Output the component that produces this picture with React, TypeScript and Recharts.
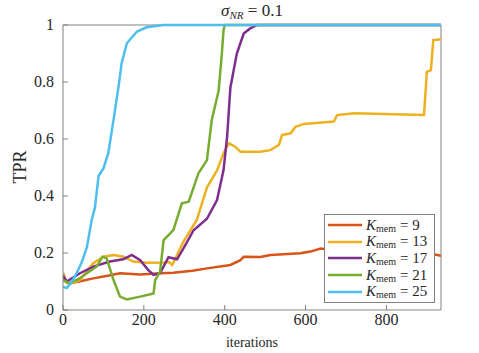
import { LineChart, Line, XAxis, YAxis, Legend, ReferenceLine } from 'recharts';

const xTicks = [0, 200, 400, 600, 800];
const yTicks = [0, 0.2, 0.4, 0.6, 0.8, 1];

const k9Iter = [0, 8, 17, 40, 75, 110, 141, 191, 240, 273, 320, 356, 414, 439, 447, 488, 513, 587, 612, 637, 700, 800, 880, 920, 935];
const k9Tpr = [0.129, 0.1, 0.094, 0.1, 0.111, 0.12, 0.129, 0.125, 0.129, 0.131, 0.138, 0.146, 0.158, 0.175, 0.187, 0.186, 0.193, 0.199, 0.205, 0.216, 0.205, 0.21, 0.2, 0.195, 0.19];

const k13Iter = [0, 5, 15, 42, 75, 100, 125, 150, 174, 207, 249, 262, 270, 298, 331, 356, 381, 397, 410, 426, 439, 488, 513, 534, 542, 563, 575, 596, 670, 678, 720, 819, 893, 900, 910, 916, 935];
const k13Tpr = [0.13, 0.1, 0.09, 0.105, 0.164, 0.187, 0.193, 0.187, 0.17, 0.166, 0.167, 0.168, 0.158, 0.24, 0.316, 0.43, 0.49, 0.55, 0.585, 0.573, 0.555, 0.555, 0.561, 0.579, 0.614, 0.62, 0.643, 0.653, 0.661, 0.684, 0.69, 0.687, 0.684, 0.836, 0.842, 0.947, 0.95];

const k17Iter = [0, 9, 42, 75, 116, 149, 170, 191, 211, 224, 240, 261, 282, 298, 323, 356, 381, 397, 406, 414, 430, 447, 463, 480, 935];
const k17Tpr = [0.12, 0.1, 0.129, 0.152, 0.17, 0.178, 0.193, 0.175, 0.14, 0.123, 0.129, 0.185, 0.178, 0.216, 0.28, 0.32, 0.386, 0.49, 0.608, 0.78, 0.9, 0.97, 0.988, 1, 1];

const k21Iter = [0, 17, 40, 59, 83, 98, 108, 125, 141, 158, 191, 216, 224, 228, 240, 249, 273, 294, 311, 335, 356, 368, 385, 393, 397, 400, 935];
const k21Tpr = [0.105, 0.094, 0.11, 0.129, 0.152, 0.187, 0.181, 0.105, 0.047, 0.037, 0.047, 0.055, 0.058, 0.105, 0.134, 0.245, 0.28, 0.374, 0.38, 0.48, 0.526, 0.667, 0.77, 0.9, 0.98, 1, 1];

const k25Iter = [0, 9, 20, 34, 47, 59, 71, 79, 88, 100, 112, 125, 137, 145, 158, 183, 207, 248, 935];
const k25Tpr = [0.082, 0.077, 0.095, 0.13, 0.17, 0.22, 0.316, 0.36, 0.47, 0.497, 0.55, 0.667, 0.78, 0.866, 0.936, 0.977, 0.992, 1, 1];

const toPoints = (xs: number[], ys: number[]) => xs.map((x, i) => ({ x, y: ys[i] }));

const series = [
  { k: '9', color: '#D95319', data: toPoints(k9Iter, k9Tpr) },
  { k: '13', color: '#EDB120', data: toPoints(k13Iter, k13Tpr) },
  { k: '17', color: '#7E2F8E', data: toPoints(k17Iter, k17Tpr) },
  { k: '21', color: '#77AC30', data: toPoints(k21Iter, k21Tpr) },
  { k: '25', color: '#4DBEEE', data: toPoints(k25Iter, k25Tpr) },
];

const font = "'Liberation Serif', 'Times New Roman', serif";
const axisGray = '#808080';
const textColor = '#262626';

const fmtY = (v: number) => (v === 0 || v === 1 ? String(v) : v.toFixed(1));

const XTick = (props: any) => {
  const { x, y, payload } = props;
  return (
    <text x={x} y={y} dy={12} textAnchor="middle" style={{ fontFamily: font, fontSize: 16 }} fill={textColor}>
      {payload.value}
    </text>
  );
};

const YTick = (props: any) => {
  const { x, y, payload } = props;
  return (
    <text x={x} y={y} dy={5} textAnchor="end" style={{ fontFamily: font, fontSize: 16 }} fill={textColor}>
      {fmtY(payload.value)}
    </text>
  );
};

const LegendBox = () => (
  <div
    style={{
      border: `1px solid ${axisGray}`,
      background: '#fff',
      padding: '2px 0 2px 3px',
      fontFamily: font,
      fontSize: 15,
      color: textColor,
      width: 106,
    }}
  >
    {series.map((s) => (
      <div key={s.k} style={{ display: 'flex', alignItems: 'center', height: 16.6 }}>
        <svg width={36} height={8}>
          <line x1={0} x2={34} y1={4} y2={4} stroke={s.color} strokeWidth={2.5} />
        </svg>
        <span style={{ fontStyle: 'italic', marginLeft: 2 }}>K</span>
        <span style={{ fontSize: 10, position: 'relative', top: 3 }}>mem</span>
        <span style={{ marginLeft: 4 }}>= {s.k}</span>
      </div>
    ))}
  </div>
);

const App = () => {
  return (
    <div style={{ position: 'absolute', left: 0, top: 0, width: 479, height: 353, fontFamily: font }}>
      <div
        style={{
          position: 'absolute',
          left: 0,
          width: 504,
          top: 1,
          textAlign: 'center',
          fontFamily: font,
          fontSize: 17,
          color: textColor,
          zIndex: 2,
        }}
      >
        <i>σ</i>
        <i style={{ fontSize: 11, position: 'relative', top: 3 }}>NR</i> = 0.1
      </div>
      <LineChart width={479} height={353} margin={{ top: 25, right: 38, bottom: 13, left: 23 }}>
        <XAxis
          dataKey="x"
          type="number"
          domain={[0, 935]}
          ticks={xTicks}
          allowDataOverflow
          height={30}
          stroke={axisGray}
          tickSize={-5}
          tickMargin={8}
          tick={<XTick />}
          label={{
            content: () => (
              <text x={252} y={347} textAnchor="middle" style={{ fontFamily: font, fontSize: 14 }} fill={textColor}>
                iterations
              </text>
            ),
          }}
        />
        <YAxis
          type="number"
          domain={[0, 1]}
          ticks={yTicks}
          width={40}
          stroke={axisGray}
          tickSize={-5}
          tickMargin={14}
          tick={<YTick />}
          label={{
            content: () => (
              <text
                x={26}
                y={167}
                textAnchor="middle"
                transform="rotate(-90 26 167)"
                style={{ fontFamily: font, fontSize: 18 }}
                fill={textColor}
              >
                TPR
              </text>
            ),
          }}
        />
        <ReferenceLine x={935} stroke={axisGray} strokeWidth={1} />
        <ReferenceLine y={1} stroke={axisGray} strokeWidth={1} />
        {series.map((s) => (
          <Line
            key={s.k}
            data={s.data}
            dataKey="y"
            name={`K_mem = ${s.k}`}
            type="linear"
            stroke={s.color}
            strokeWidth={2.5}
            dot={false}
            isAnimationActive={false}
          />
        ))}
        <Legend
          layout="vertical"
          align="center"
          verticalAlign="middle"
          content={() => <LegendBox />}
          wrapperStyle={{ left: 324, top: 214, width: 110 }}
        />
      </LineChart>
    </div>
  );
};

export default App;
